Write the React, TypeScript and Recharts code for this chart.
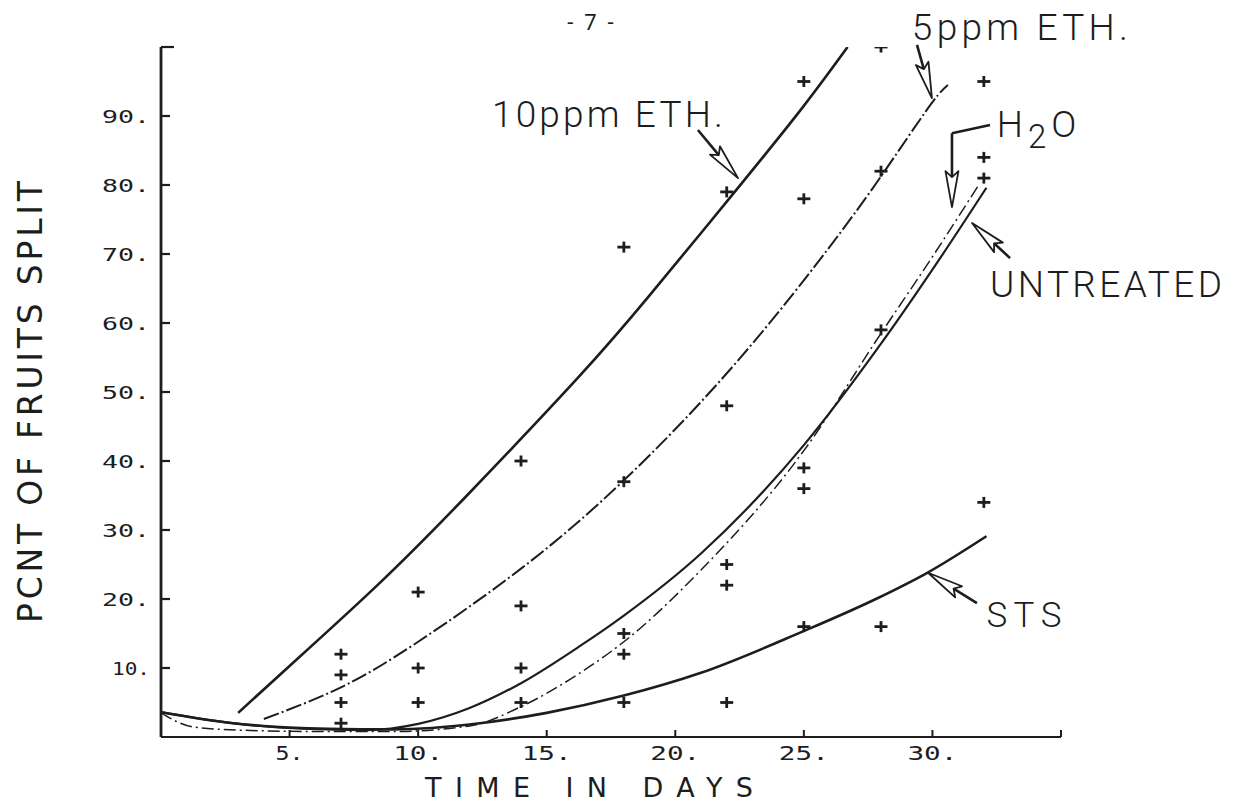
import React from 'react';
import { ComposedChart, Line, Scatter, XAxis, YAxis, ReferenceDot, ReferenceLine } from 'recharts';

// fitted curves: day -> percent of fruits split
const tenPpmDays = [3, 5, 8.5, 12, 16.2, 19, 22.2, 24.9, 26.7];
const tenPpmPct = [3.5, 10.3, 22.3, 35.4, 52, 64, 78.5, 91, 100];

const fivePpmDays = [4, 7, 10, 14, 18, 22.4, 26.4, 28.6, 30, 30.6];
const fivePpmPct = [2.6, 7.2, 13.8, 24.4, 37.2, 54.4, 73, 84.5, 92, 94.5];

const untreatedDays = [0, 2.8, 5.5, 8, 10, 12, 14, 16.3, 18, 21, 25, 28, 30.3, 32.1];
const untreatedPct = [3.6, 2.0, 1.2, 1.0, 1.9, 4.2, 7.8, 13.2, 17.6, 26.6, 42.3, 57, 69.4, 79.6];

const waterDays = [0, 1.2, 3, 6, 9, 12, 14, 16.3, 18, 21, 25, 28, 30, 31.8];
const waterPct = [3.5, 1.5, 1.0, 0.8, 0.8, 1.6, 4.4, 9.3, 13.8, 24.2, 41.5, 58.5, 69.6, 80];

const stsDays = [0, 2.8, 6.5, 9, 12.4, 15, 18, 21, 24.9, 27.8, 29.8, 32.1];
const stsPct = [3.6, 2.0, 1.2, 1.1, 2.0, 3.5, 6.0, 9.3, 15.2, 20.0, 23.8, 29.1];

// observed values (+ marks), grouped by sampling day
const obsDays = [7, 10, 14, 18, 22, 25, 28, 32];
const obsPct = [
  [12, 9, 5, 2],
  [21, 10, 5],
  [40, 19, 10, 5],
  [71, 37, 15, 12, 5],
  [79, 48, 25, 22, 5],
  [95, 78, 39, 36, 16],
  [100, 82, 59, 16],
  [95, 84, 81, 34],
];

const xTicks = [5, 10, 15, 20, 25, 30, 35];
const yTicks = [10, 20, 30, 40, 50, 60, 70, 80, 90, 100];

const toPoints = (days: number[], pct: number[]) => days.map((d, i) => ({ day: d, pct: pct[i] }));
const observations = obsDays.flatMap((d, i) => obsPct[i].map((p) => ({ day: d, pct: p })));

// callouts, in chart units (day, pct)
const callouts = [
  { text: '10ppm ETH.', day: 12.87, pct: 88.4, size: 37, width: 231 },
  { text: '5ppm ETH.', day: 29.2, pct: 101.0, size: 37, width: 216 },
  { text: 'UNTREATED', day: 32.24, pct: 63.8, size: 37, width: 232 },
  { text: 'STS', day: 32.1, pct: 15.9, size: 35, width: 75 },
];
const pointers = [
  { from: [20.88, 87.97], to: [22.44, 81.0] },
  { from: [29.4, 100.3], to: [29.98, 92.6] },
  { from: [30.76, 87.5], to: [30.76, 76.8] },
  { from: [33.02, 69.4], to: [31.54, 74.5] },
  { from: [31.73, 19.4], to: [29.83, 23.8] },
];

const ink = '#1d1d1d';
const plotFont = '"DejaVu Sans Mono", monospace';
const letterFont = 'Roboto, "Liberation Sans", sans-serif';
const titleFont = '"DejaVu Sans", sans-serif';

function XTick({ x, y, payload }: any) {
  const v = payload.value;
  return (
    <g>
      <line x1={x} y1={y} x2={x} y2={y - 7} stroke={ink} strokeWidth={2} />
      {v <= 30 && (
        <text x={x} y={y + 16} textAnchor="middle" dominantBaseline="central" fontFamily={plotFont}
          fontSize={19} fill={ink} textLength={v < 10 ? 28 : 50} lengthAdjust="spacingAndGlyphs">
          {v + '.'}
        </text>
      )}
    </g>
  );
}

function YTick({ x, y, payload }: any) {
  const v = payload.value;
  return (
    <g>
      <line x1={x} y1={y} x2={x + (v === 100 ? 13 : 9)} y2={y} stroke={ink} strokeWidth={2.2} />
      {v < 100 && (
        <text x={x - 11} y={y} textAnchor="end" dominantBaseline="central" fontFamily={plotFont}
          fontSize={18} fill={ink} textLength={v === 10 ? 38 : 48} lengthAdjust="spacingAndGlyphs">
          {v + '.'}
        </text>
      )}
    </g>
  );
}

const Cross = (p: any) => (
  <g stroke={ink} strokeWidth={2.8}>
    <line x1={p.cx - 6.5} y1={p.cy} x2={p.cx + 6.5} y2={p.cy} />
    <line x1={p.cx} y1={p.cy - 5.5} x2={p.cx} y2={p.cy + 5.5} />
  </g>
);

function Pointer({ x1, y1, x2, y2 }: any) {
  const len = Math.hypot(x2 - x1, y2 - y1) || 1;
  const ux = (x2 - x1) / len;
  const uy = (y2 - y1) / len;
  const head = 36;
  const wing = 6.5;
  const cx = x2 - ux * head;
  const cy = y2 - uy * head;
  const nx = x2 - ux * (head - 6);
  const ny = y2 - uy * (head - 6);
  const pts = [
    [x2, y2],
    [cx - uy * wing, cy + ux * wing],
    [nx, ny],
    [cx + uy * wing, cy - ux * wing],
  ].map((q) => q.join(',')).join(' ');
  return (
    <g>
      <line x1={x1} y1={y1} x2={nx} y2={ny} stroke={ink} strokeWidth={2.6} />
      <polygon points={pts} fill="#fff" stroke={ink} strokeWidth={1.8} strokeLinejoin="round" />
    </g>
  );
}

const calloutShape = (c: typeof callouts[number]) => (p: any) => (
  <text x={p.cx} y={p.cy} fontFamily={letterFont} fontWeight={300} fontSize={c.size} fill={ink}
    textLength={c.width} lengthAdjust="spacing">
    {c.text}
  </text>
);

const waterShape = (p: any) => (
  <text x={p.cx} y={p.cy} fontFamily={letterFont} fontWeight={300} fontSize={37} fill={ink} letterSpacing={5}>
    <tspan>H</tspan>
    <tspan dy={11} fontSize={33}>2</tspan>
    <tspan dy={-11}>O</tspan>
  </text>
);

const pageShape = (p: any) => (
  <text x={p.cx} y={p.cy} textAnchor="middle" fontFamily={letterFont} fontSize={22} fill={ink}>
    {'-\u00a0\u00a07\u00a0\u00a0-'}
  </text>
);

export default function App() {
  return (
    <div style={{ position: 'absolute', left: 0, top: 0, background: '#fff' }}>
      <ComposedChart width={1258} height={805} margin={{ top: 47, right: 197, bottom: 28, left: 101 }}>
        <XAxis
          type="number"
          dataKey="day"
          domain={[0, 35]}
          ticks={xTicks}
          interval={0}
          height={40}
          tickSize={0}
          tickMargin={0}
          tickLine={false}
          tick={<XTick />}
          axisLine={{ stroke: ink, strokeWidth: 2.2 }}
          allowDataOverflow
          label={{
            content: ({ viewBox }: any) => (
              <text x={viewBox.x + 264} y={viewBox.y + 60} fontFamily={titleFont} fontSize={27}
                fill={ink} textLength={328} lengthAdjust="spacing">
                TIME IN DAYS
              </text>
            ),
          }}
        />
        <YAxis
          type="number"
          dataKey="pct"
          domain={[0, 100]}
          ticks={yTicks}
          interval={0}
          width={60}
          tickSize={0}
          tickMargin={0}
          tickLine={false}
          tick={<YTick />}
          axisLine={{ stroke: ink, strokeWidth: 2.8 }}
          allowDataOverflow
          label={{
            content: ({ viewBox }: any) => {
              const cx = viewBox.x - 71;
              const cy = viewBox.y + viewBox.height / 2 + 10;
              return (
                <text x={cx} y={cy} transform={`rotate(-90 ${cx} ${cy})`} textAnchor="middle" dominantBaseline="central"
                  fontFamily={titleFont} fontSize={33} fill={ink} textLength={442} lengthAdjust="spacing">
                  PCNT OF FRUITS SPLIT
                </text>
              );
            },
          }}
        />

        <Line data={toPoints(tenPpmDays, tenPpmPct)} dataKey="pct" type="natural" stroke={ink} strokeWidth={2.6}
          dot={false} activeDot={false} isAnimationActive={false} />
        <Line data={toPoints(fivePpmDays, fivePpmPct)} dataKey="pct" type="natural" stroke={ink} strokeWidth={2}
          strokeDasharray="16 3 2 3" dot={false} activeDot={false} isAnimationActive={false} />
        <Line data={toPoints(untreatedDays, untreatedPct)} dataKey="pct" type="monotone" stroke={ink} strokeWidth={2.2}
          dot={false} activeDot={false} isAnimationActive={false} />
        <Line data={toPoints(waterDays, waterPct)} dataKey="pct" type="monotone" stroke={ink} strokeWidth={1.5}
          strokeDasharray="12 4 2 4" dot={false} activeDot={false} isAnimationActive={false} />
        <Line data={toPoints(stsDays, stsPct)} dataKey="pct" type="monotone" stroke={ink} strokeWidth={2.6}
          dot={false} activeDot={false} isAnimationActive={false} />

        <Scatter data={observations} dataKey="pct" shape={Cross} isAnimationActive={false} />

        {pointers.map((a, i) => (
          <ReferenceLine key={'p' + i} ifOverflow="visible"
            segment={[{ x: a.from[0], y: a.from[1] }, { x: a.to[0], y: a.to[1] }]}
            shape={(p: any) => <Pointer {...p} />} />
        ))}
        <ReferenceLine ifOverflow="visible" segment={[{ x: 32.24, y: 88.7 }, { x: 30.76, y: 87.5 }]}
          stroke={ink} strokeWidth={2.6} />

        {callouts.map((c) => (
          <ReferenceDot key={c.text} x={c.day} y={c.pct} r={0} ifOverflow="visible" shape={calloutShape(c)} />
        ))}
        <ReferenceDot x={32.5} y={87.0} r={0} ifOverflow="visible" shape={waterShape} />
        <ReferenceDot x={16.7} y={102.4} r={0} ifOverflow="visible" shape={pageShape} />
      </ComposedChart>
    </div>
  );
}
